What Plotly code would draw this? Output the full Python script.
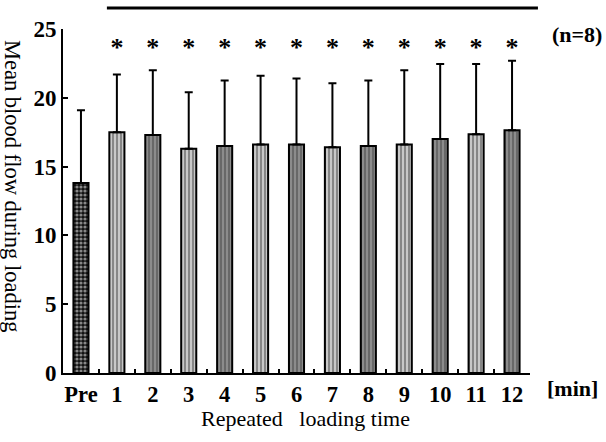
import plotly.graph_objects as go

categories = ["Pre", "1", "2", "3", "4", "5", "6", "7", "8", "9", "10", "11", "12"]
mean_flow = [13.8, 17.5, 17.3, 16.3, 16.5, 16.6, 16.6, 16.4, 16.5, 16.6, 17.0, 17.35, 17.65]
sd_flow = [5.3, 4.2, 4.7, 4.1, 4.75, 5.0, 4.8, 4.65, 4.75, 5.4, 5.45, 5.1, 5.05]
significant = ["", "*", "*", "*", "*", "*", "*", "*", "*", "*", "*", "*", "*"]
y_ticks = [0, 5, 10, 15, 20, 25]

SERIF = "Liberation Serif"

fg = []
bg = []
shapes_p = []
for i, c in enumerate(categories):
    if i == 0:
        fg.append("#a0a0a0"); bg.append("#101010"); shapes_p.append(".")
    elif i % 2 == 1:
        fg.append("#333333"); bg.append("#c8c8c8"); shapes_p.append("|")
    else:
        fg.append("#1a1a1a"); bg.append("#8c8c8c"); shapes_p.append("|")

fig = go.Figure()
fig.add_trace(go.Bar(
    x=categories, y=mean_flow, width=0.42,
    marker=dict(color=bg, line=dict(color="black", width=2),
                pattern=dict(shape=shapes_p, fgcolor=fg, size=4, solidity=0.5,
                             fillmode="overlay")),
    error_y=dict(type="data", symmetric=False, array=sd_flow, arrayminus=[0]*len(sd_flow),
                 color="black", thickness=2, width=4),
    showlegend=False,
))
# significance stars
fig.add_trace(go.Scatter(
    x=categories, y=[23.5]*len(categories), mode="text", text=significant,
    textfont=dict(family=SERIF, size=26, color="black", weight="bold"),
    textposition="middle center", showlegend=False, cliponaxis=False, hoverinfo="skip",
))

fig.update_layout(
    width=606, height=442,
    margin=dict(l=63, r=76, t=29, b=69),
    plot_bgcolor="white", paper_bgcolor="white",
    font=dict(family=SERIF, color="black"),
    xaxis=dict(
        type="category", range=[-0.5, 12.5],
        showline=True, linecolor="black", linewidth=2,
        ticks="inside", ticklen=4, tickwidth=1.5, tickcolor="black", tickson="boundaries",
        tickangle=0,
        tickfont=dict(family=SERIF, size=22.5, color="black", weight="bold"),
        showgrid=False, zeroline=False,
    ),
    yaxis=dict(
        range=[0, 25], tickvals=y_ticks,
        showline=True, linecolor="black", linewidth=2,
        ticks="inside", ticklen=5, tickwidth=1.5, tickcolor="black",
        tickfont=dict(family=SERIF, size=23, color="black", weight="bold"),
        showgrid=False, zeroline=False,
    ),
    shapes=[dict(type="line", xref="paper", yref="paper", x0=0.094, x1=1.017, y0=1.061, y1=1.061,
                 line=dict(color="black", width=3))],
    annotations=[
        dict(text="(n=8)", xref="paper", yref="paper", x=1.10, y=0.985, showarrow=False,
             xanchor="center", yanchor="middle",
             font=dict(family=SERIF, size=22, color="black", weight="bold")),
        dict(text="[min]", xref="paper", yref="paper", x=1.09, y=-0.045, showarrow=False,
             xanchor="center", yanchor="middle",
             font=dict(family=SERIF, size=22, color="black", weight="bold")),
        dict(text="Repeated   loading time", xref="paper", yref="paper", x=0.52, y=-0.133,
             showarrow=False, xanchor="center", yanchor="middle",
             font=dict(family=SERIF, size=22, color="black")),
        dict(text="Mean blood flow during loading", xref="paper", yref="paper", x=-0.108, y=0.545,
             showarrow=False, xanchor="center", yanchor="middle", textangle=90,
             font=dict(family=SERIF, size=22.5, color="black")),
    ],
)

fig.write_html("out.html")
